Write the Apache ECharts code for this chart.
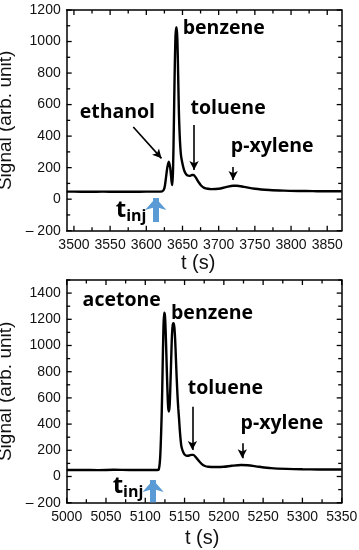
<!DOCTYPE html>
<html>
<head>
<meta charset="utf-8">
<script src="https://cdn.jsdelivr.net/npm/echarts@6/dist/echarts.min.js"></script>
<style>html,body{margin:0;padding:0;background:#fff}#c{width:359px;height:550px}</style>
</head>
<body>
<div id="c"></div>
<script>
// ---- data: top panel (ethanol sample) ----
const topTime   = [3490,3500,3520,3540,3560,3580,3600,3615,3622,3625,3627,3629,3631,3633,3635,3636,3637,3638,3639,3640,3641,3642,3643,3644,3645,3646,3647,3648,3650,3652,3654,3657,3660,3663,3665,3668,3672,3676,3680,3685,3690,3700,3710,3720,3725,3735,3750,3770,3790,3810,3830,3850,3870];
const topSignal = [48,48,47,48,47,47,48,48,50,70,130,200,238,200,110,90,200,450,750,980,1090,1090,1000,790,560,420,330,275,225,188,165,150,148,153,153,140,110,85,72,66,64,66,76,85,85,78,66,58,54,52,51,50,50];
// ---- data: bottom panel (acetone sample) ----
const botTime   = [5000,5020,5040,5060,5080,5100,5115,5117,5119,5121,5122,5123,5124,5125,5126,5127,5128,5129,5130,5131,5132,5133,5134,5135,5136,5137,5138,5139,5140,5141,5142,5143,5144,5145,5146,5148,5150,5153,5156,5159,5161,5164,5168,5172,5176,5180,5190,5200,5210,5222,5230,5245,5260,5280,5300,5320,5350];
const botSignal = [50,50,49,51,50,50,50,52,150,500,800,1100,1250,1230,1100,900,700,540,495,540,700,900,1080,1160,1170,1140,1050,900,750,620,520,440,350,280,230,190,168,158,160,165,165,150,120,95,80,74,72,74,82,88,86,74,64,58,55,54,53];

// ---- axis ranges, tick labels and tick positions ----
const topXRange  = [3490, 3870], topYRange = [-200, 1200];
const botXRange  = [5000, 5350], botYRange = [-200, 1500];
const topXLabels = [3500,3550,3600,3650,3700,3750,3800,3850];
const topXTicks  = [3500,3525,3550,3575,3600,3625,3650,3675,3700,3725,3750,3775,3800,3825,3850];
const botXLabels = [5000,5050,5100,5150,5200,5250,5300,5350];
const botXTicks  = [5000,5025,5050,5075,5100,5125,5150,5175,5200,5225,5250,5275,5300,5325,5350];
const topYLabels = [-200,0,200,400,600,800,1000,1200];
const topYTicks  = [-200,-100,0,100,200,300,400,500,600,700,800,900,1000,1100,1200];
const botYLabels = [-200,0,200,400,600,800,1000,1200,1400];
const botYTicks  = [-200,-100,0,100,200,300,400,500,600,700,800,900,1000,1100,1200,1300,1400,1500];

// ---- annotations (data coordinates) ----
const topNames    = ['ethanol','benzene','toluene','p-xylene'];
const topNamePos  = [[3560,553],[3707,1086],[3713,578],[3774,337]];
const topArrows   = [[[3582,458],[3621,259]],[[3666,470],[3666,185]],[[3720,204],[3720,122]]];
const topInjArrow = [[3613,-145],[3613,7]];
const topInjPos   = [3579,-75];
const botNames    = ['acetone','benzene','toluene','p-xylene'];
const botNamePos  = [[5070,1347],[5185,1246],[5202,673],[5274,406]];
const botArrows   = [[[5160,533],[5160,202]],[[5223.5,253],[5223.5,139]]];
const botInjArrow = [[5110,-198],[5110,-27]];
const botInjPos   = [5078,-80];

const AX = '#000';
const labelFont = 'Liberation Sans, Arial, sans-serif';
const annFont = 'Open Sans, sans-serif';
function lbl(extra) {
  return Object.assign({ fontSize: 14, color: '#111', fontFamily: labelFont, hideOverlap: false }, extra);
}
function line() { return { show: true, onZero: false, lineStyle: { color: AX, width: 1.5 } }; }

function xAxis(grid, pos, range, labels) {
  const o = {
    type: 'value', gridIndex: grid, position: pos, min: range[0], max: range[1],
    axisLine: line(), axisTick: { show: false },
    axisLabel: lbl({ show: pos === 'bottom', customValues: labels.slice(), margin: 7, formatter: v => String(v) }),
    splitLine: { show: false }
  };
  if (pos === 'bottom') {
    o.name = 't (s)'; o.nameLocation = 'middle'; o.nameGap = grid === 0 ? 23 : 26;
    o.nameTextStyle = { fontSize: 20, color: '#111', fontFamily: labelFont, padding: [0, grid === 0 ? 12 : 4, 0, 0] };
  }
  return o;
}
function yAxis(grid, pos, range, labels) {
  const o = {
    type: 'value', gridIndex: grid, position: pos, min: range[0], max: range[1],
    axisLine: line(), axisTick: { show: false },
    axisLabel: lbl({ show: pos === 'left', customValues: labels.slice(), margin: 6,
      formatter: v => (v < 0 ? '\u2013 ' + Math.abs(v) : String(v)) }),
    splitLine: { show: false }
  };
  if (pos === 'left') {
    o.name = 'Signal (arb. unit)'; o.nameLocation = 'middle'; o.nameGap = 41;
    o.nameTextStyle = { fontSize: 19, color: '#111', fontFamily: labelFont };
  }
  return o;
}

// inward tick marks on all four frame sides, placed through the axes' own scales
function tickItems(xr, yr, xt, xl, yt, yl) {
  const d = [];
  xt.forEach(v => { const m = xl.indexOf(v) >= 0 ? 1 : 0; d.push([v, yr[0], 0, m]); d.push([v, yr[1], 1, m]); });
  yt.forEach(v => { const m = yl.indexOf(v) >= 0 ? 1 : 0; d.push([xr[0], v, 2, m]); d.push([xr[1], v, 3, m]); });
  return d;
}
function tickSeries(xIdx, yIdx, items) {
  return {
    type: 'custom', xAxisIndex: xIdx, yAxisIndex: yIdx, silent: true, clip: false, z: 5,
    data: items,
    renderItem: function (params, api) {
      const p = api.coord([api.value(0), api.value(1)]);
      const side = api.value(2);
      const len = api.value(3) ? 5 : 3.5;
      let x2 = p[0], y2 = p[1];
      if (side === 0) y2 -= len;
      else if (side === 1) y2 += len;
      else if (side === 2) x2 += len;
      else x2 -= len;
      return { type: 'line', shape: { x1: p[0], y1: p[1], x2: x2, y2: y2 },
        style: { stroke: '#000', lineWidth: 1.3 } };
    }
  };
}

function arrowLines(arrows, inj) {
  const d = arrows.map(a => [{ coord: a[0], symbol: 'none' }, { coord: a[1], symbol: 'arrow', symbolSize: [7, 9] }]);
  d.push([{ coord: inj[0], symbol: 'none', lineStyle: { color: '#5b9bd5', width: 6 } },
          { coord: inj[1], symbol: 'arrow', symbolSize: [16, 12], lineStyle: { color: '#5b9bd5', width: 6 } }]);
  return {
    silent: true, animation: false, symbol: ['none', 'arrow'],
    label: { show: false },
    lineStyle: { color: '#000', width: 1.6, type: 'solid' },
    emphasis: { disabled: true },
    data: d
  };
}
function namePoints(names, pos, injPos) {
  const d = names.map((n, i) => ({
    coord: pos[i], symbol: 'circle', symbolSize: 1, itemStyle: { color: 'rgba(0,0,0,0)' },
    label: { show: true, position: 'inside', formatter: n, fontSize: 19.5, fontWeight: 'bold', color: '#000', fontFamily: annFont }
  }));
  d.push({
    coord: injPos, symbol: 'circle', symbolSize: 1, itemStyle: { color: 'rgba(0,0,0,0)' },
    label: { show: true, position: 'inside', formatter: '{t|t}{s|inj}', color: '#000',
      rich: {
        t: { fontSize: 24, fontWeight: 'bold', fontFamily: annFont, color: '#000', verticalAlign: 'top', lineHeight: 26 },
        s: { fontSize: 16, fontWeight: 'bold', fontFamily: annFont, color: '#000', verticalAlign: 'bottom', padding: [14, 0, 0, 0], lineHeight: 18 }
      } }
  });
  return { silent: true, animation: false, data: d };
}

const chart = echarts.init(document.getElementById('c'), null, { renderer: 'canvas' });
chart.setOption({
  animation: false,
  backgroundColor: '#fff',
  grid: [
    { left: 66.7, top: 10, right: 17.3, bottom: 319.3, containLabel: false, outerBoundsMode: 'none' },
    { left: 66.7, top: 280, right: 17.3, bottom: 47.3, containLabel: false, outerBoundsMode: 'none' }
  ],
  xAxis: [
    xAxis(0, 'bottom', topXRange, topXLabels), xAxis(0, 'top', topXRange, topXLabels),
    xAxis(1, 'bottom', botXRange, botXLabels), xAxis(1, 'top', botXRange, botXLabels)
  ],
  yAxis: [
    yAxis(0, 'left', topYRange, topYLabels), yAxis(0, 'right', topYRange, topYLabels),
    yAxis(1, 'left', botYRange, botYLabels), yAxis(1, 'right', botYRange, botYLabels)
  ],
  series: [
    { type: 'line', xAxisIndex: 0, yAxisIndex: 0, showSymbol: false, smooth: 0.3,
      lineStyle: { color: '#000', width: 2.4 }, itemStyle: { color: '#000' },
      data: topTime.map((t, i) => [t, topSignal[i]]),
      markLine: arrowLines(topArrows, topInjArrow), markPoint: namePoints(topNames, topNamePos, topInjPos) },
    { type: 'line', xAxisIndex: 2, yAxisIndex: 2, showSymbol: false, smooth: 0.3,
      lineStyle: { color: '#000', width: 2.4 }, itemStyle: { color: '#000' },
      data: botTime.map((t, i) => [t, botSignal[i]]),
      markLine: arrowLines(botArrows, botInjArrow), markPoint: namePoints(botNames, botNamePos, botInjPos) },
    tickSeries(0, 0, tickItems(topXRange, topYRange, topXTicks, topXLabels, topYTicks, topYLabels)),
    tickSeries(2, 2, tickItems(botXRange, botYRange, botXTicks, botXLabels, botYTicks, botYLabels))
  ]
});
</script>
</body>
</html>
